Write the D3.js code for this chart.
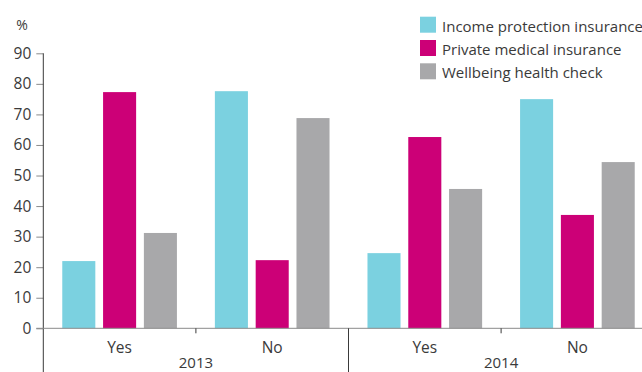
<!DOCTYPE html>
<html>
<head>
<meta charset="utf-8">
<script src="https://cdn.jsdelivr.net/npm/d3@7"></script>
<style>
  html, body { margin: 0; padding: 0; background: #fff; }
  svg { display: block; }
  text { font-family: "Open Sans", sans-serif; fill: #3a3a3a; }
</style>
</head>
<body>
<svg id="chart" width="642" height="372"></svg>
<script>
// Categories: year groups, each split into Yes / No answers
const years = ["2013", "2014"];
const answers = ["Yes", "No"];
const series = ["Income protection insurance", "Private medical insurance", "Wellbeing health check"];
const colors = ["#7bd1e0", "#cc0077", "#a8a8aa"];

// Percentages per series, ordered 2013 Yes, 2013 No, 2014 Yes, 2014 No
const incomeProtection = [22, 77.6, 24.6, 75];
const privateMedical = [77.3, 22.3, 62.6, 37.1];
const wellbeingCheck = [31.2, 68.8, 45.6, 54.4];
const yTicks = [0, 10, 20, 30, 40, 50, 60, 70, 80, 90];

const values = [incomeProtection, privateMedical, wellbeingCheck];
const cats = [];
years.forEach(y => answers.forEach(a => cats.push({ year: y, answer: a, key: y + "|" + a })));

const svg = d3.select("#chart");
const plotLeft = 43.3, plotRight = 653.7, plotTop = 53.3, plotBottom = 328.3;

const x0 = d3.scaleBand().domain(cats.map(c => c.key)).range([plotLeft, plotRight]).padding(0);
const x1 = d3.scaleBand().domain(series).range([0, x0.bandwidth()])
  .paddingInner(0.19).paddingOuter(0.465);
const y = d3.scaleLinear().domain([0, 90]).range([plotBottom, plotTop]);

// Bars
const groups = svg.append("g").selectAll("g").data(cats).join("g")
  .attr("transform", d => `translate(${x0(d.key)},0)`);
groups.selectAll("rect")
  .data((d, i) => series.map((s, j) => ({ s, j, v: values[j][i] })))
  .join("rect")
  .attr("x", d => x1(d.s))
  .attr("width", x1.bandwidth())
  .attr("y", d => y(d.v))
  .attr("height", d => y(0) - y(d.v))
  .attr("fill", d => colors[d.j]);

// Y axis
const yAxis = d3.axisLeft(y).tickValues(yTicks).tickSize(7).tickPadding(5);
const yg = svg.append("g").attr("transform", `translate(${plotLeft},0)`).call(yAxis);
yg.select(".domain").remove();
yg.selectAll(".tick line").attr("stroke", "#8a8a8a");
yg.selectAll(".tick text").attr("font-size", 15.5).attr("fill", "#3a3a3a")
  .style("font-family", "'Open Sans', sans-serif");

// Vertical axis line running down through the category area
svg.append("line").attr("x1", plotLeft).attr("x2", plotLeft).attr("y1", plotTop).attr("y2", 372)
  .attr("stroke", "#3a3a3a").attr("stroke-width", 1);

// Baseline
svg.append("line").attr("x1", plotLeft - 7).attr("x2", 642).attr("y1", plotBottom).attr("y2", plotBottom)
  .attr("stroke", "#8a8a8a").attr("stroke-width", 1);

// "%" unit label
svg.append("text").attr("x", 22).attr("y", 30).attr("text-anchor", "middle")
  .attr("font-size", 14).text("%");

// Category labels (Yes / No)
svg.append("g").selectAll("text").data(cats).join("text")
  .attr("x", d => x0(d.key) + x0.bandwidth() / 2)
  .attr("y", 353)
  .attr("text-anchor", "middle")
  .attr("font-size", 15.5)
  .text(d => d.answer);

// Tick between Yes and No within each year, plus the year label
years.forEach(yr => {
  const xm = x0(yr + "|No");
  svg.append("line").attr("x1", xm).attr("x2", xm).attr("y1", plotBottom).attr("y2", plotBottom + 5)
    .attr("stroke", "#3a3a3a");
  svg.append("text").attr("x", xm).attr("y", 368).attr("text-anchor", "middle")
    .attr("font-size", 15).text(yr);
});

// Separators between year groups
years.forEach((yr, i) => {
  if (i === 0) return;
  const xs = x0(yr + "|Yes");
  svg.append("line").attr("x1", xs).attr("x2", xs).attr("y1", plotBottom).attr("y2", 372)
    .attr("stroke", "#3a3a3a");
});

// Legend
const legend = svg.append("g").selectAll("g").data(series).join("g")
  .attr("transform", (d, i) => `translate(420,${16.7 + i * 23.3})`);
legend.append("rect").attr("width", 16).attr("height", 16).attr("fill", (d, i) => colors[i]);
legend.append("text").attr("x", 22).attr("y", 15).attr("font-size", 15).text(d => d);
</script>
</body>
</html>
